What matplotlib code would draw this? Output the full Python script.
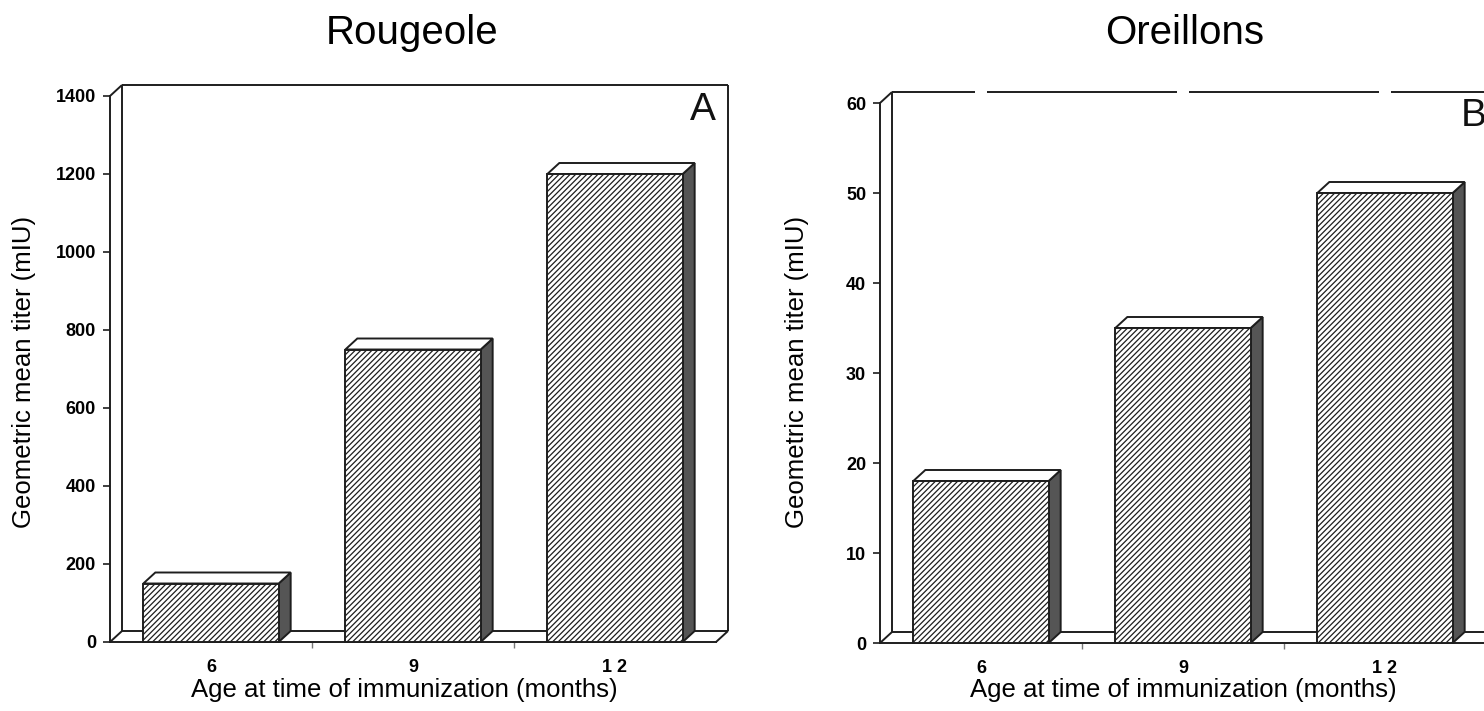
import matplotlib
matplotlib.use("Agg")
import matplotlib.pyplot as plt
from matplotlib.patches import Polygon

plt.rcParams['font.family'] = ['Liberation Sans', 'DejaVu Sans']
plt.rcParams['hatch.linewidth'] = 0.9
plt.rcParams['hatch.color'] = '#2a2a2a'

# ---- data ----
categories = ["6", "9", "1 2"]
rougeole_values = [150, 750, 1200]
oreillons_values = [18, 35, 50]
rougeole_ticks = [0, 200, 400, 600, 800, 1000, 1200, 1400]
oreillons_ticks = [0, 10, 20, 30, 40, 50, 60]
titles = ["Rougeole", "Oreillons"]
panel_letters = ["A", "B"]
ylabel = "Geometric mean titer (mIU)"
xlabel = "Age at time of immunization (months)"

W, H = 1484, 711
fig = plt.figure(figsize=(W / 100, H / 100), dpi=100)

LC = '#1e1e1e'
LW = 1.4
BAR_W = 0.67
DEPTH_PX = (12, 11)


def px_axes(left, right, y0, ytop):
    return fig.add_axes([left / W, (H - y0) / H, (right - left) / W, (y0 - ytop) / H])


def draw_panel(ax, values, yticks, letter, gapped_top=False):
    n = len(values)
    ymax = yticks[-1]
    ax.set_xlim(-0.5, n - 0.5)
    ax.set_ylim(0, ymax)
    p0 = ax.transData.transform((0, 0))
    p1 = ax.transData.transform((1, ymax))
    ddx = DEPTH_PX[0] / (p1[0] - p0[0])
    ddy = DEPTH_PX[1] / (p1[1] - p0[1]) * ymax

    for s in ['top', 'right']:
        ax.spines[s].set_visible(False)
    for s in ['left', 'bottom']:
        ax.spines[s].set_color(LC)
        ax.spines[s].set_linewidth(LW)

    xl, xr = -0.5, n - 0.5
    kw = dict(color=LC, lw=LW, clip_on=False, solid_capstyle='butt')
    ax.plot([xl + ddx, xl + ddx], [ddy, ymax + ddy], **kw)
    ax.plot([xr + ddx, xr + ddx], [ddy, ymax + ddy], **kw)
    if gapped_top:
        gap = 0.03
        edges = [xl + ddx] + sum([[i - gap, i + gap] for i in range(n)], []) + [xr + ddx]
        for a, b in zip(edges[0::2], edges[1::2]):
            ax.plot([a, b], [ymax + ddy, ymax + ddy], **kw)
    else:
        ax.plot([xl + ddx, xr + ddx], [ymax + ddy, ymax + ddy], **kw)
    ax.plot([xl, xl + ddx], [ymax, ymax + ddy], **kw)
    ax.plot([xl, xl + ddx], [0, ddy], **kw)
    ax.plot([xl + ddx, xr + ddx], [ddy, ddy], **kw)
    ax.plot([xr, xr + ddx], [0, ddy], **kw)

    for i, v in enumerate(values):
        x0, x1 = i - BAR_W / 2, i + BAR_W / 2
        front = Polygon([(x0, 0), (x1, 0), (x1, v), (x0, v)], closed=True,
                        facecolor='white', edgecolor=LC, lw=LW, hatch='//////',
                        clip_on=False, zorder=3)
        top = Polygon([(x0, v), (x1, v), (x1 + ddx, v + ddy), (x0 + ddx, v + ddy)],
                      closed=True, facecolor='white', edgecolor=LC, lw=LW,
                      clip_on=False, zorder=3)
        side = Polygon([(x1, 0), (x1 + ddx, ddy), (x1 + ddx, v + ddy), (x1, v)],
                       closed=True, facecolor='#555555', edgecolor=LC, lw=LW,
                       clip_on=False, zorder=3)
        for p in (side, top, front):
            ax.add_patch(p)
    ax.set_yticks(yticks)
    ax.set_yticklabels([str(t) for t in yticks], fontsize=13, fontweight='bold')
    ax.tick_params(axis='y', direction='out', length=5, width=1.2, color=LC, pad=5)
    ax.set_xticks(range(n))
    ax.set_xticklabels(categories, fontsize=13, fontweight='bold')
    ax.tick_params(axis='x', which='major', length=0, pad=12)
    ax.set_xticks([i + 0.5 for i in range(n - 1)], minor=True)
    ax.tick_params(axis='x', which='minor', direction='out', length=4, width=1.0, color='#777')
    ax.text(0.979, 0.975, letter, transform=ax.transAxes, fontsize=28,
            ha='center', va='center', color='#111')


axL = px_axes(110, 716, 642, 96)
draw_panel(axL, rougeole_values, rougeole_ticks, panel_letters[0])
axR = px_axes(880, 1486, 643, 103)
draw_panel(axR, oreillons_values, oreillons_ticks, panel_letters[1], gapped_top=True)

fig.text(412 / W, 1 - 33 / H, titles[0], fontsize=29, ha='center', va='center')
fig.text(1185 / W, 1 - 33 / H, titles[1], fontsize=29, ha='center', va='center')
fig.text(24 / W, 1 - 372 / H, ylabel, fontsize=18.5, rotation=90, ha='center', va='center')
fig.text(797 / W, 1 - 372 / H, ylabel, fontsize=18.5, rotation=90, ha='center', va='center')
fig.text(404 / W, 1 - 690 / H, xlabel, fontsize=18.5, ha='center', va='center')
fig.text(1183 / W, 1 - 690 / H, xlabel, fontsize=18.5, ha='center', va='center')

fig.savefig("out.png", dpi=100)
